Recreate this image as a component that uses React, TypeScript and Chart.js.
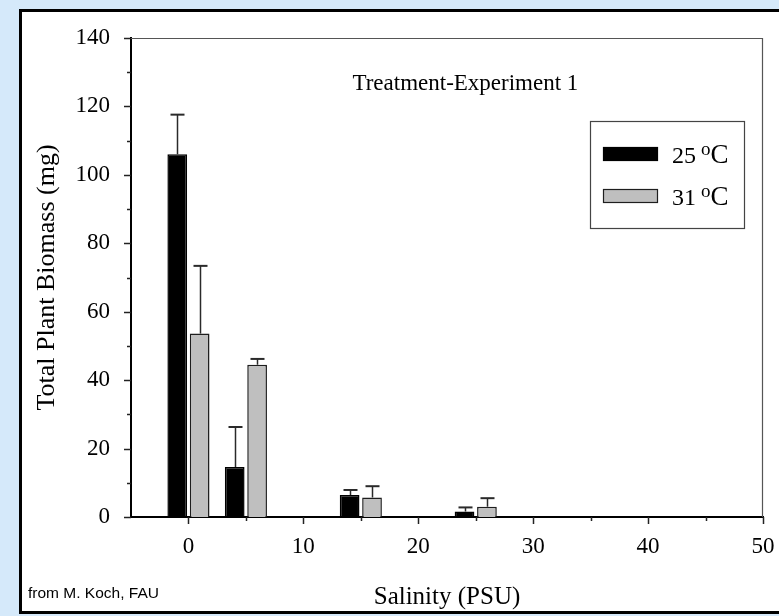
import React, { useEffect, useRef } from 'react';
import { Chart, registerables } from 'chart.js';

Chart.register(...registerables);

// ---- data ----
const salinity = [0, 5, 15, 25];
const biomass25 = [106, 14.6, 6.4, 1.6];
const err25 = [11.6, 11.7, 1.5, 1.2];
const biomass31 = [53.6, 44.5, 5.7, 3.0];
const err31 = [19.8, 1.7, 3.3, 2.5];
const seriesTemps = ['25', '31'];
const chartTitle = 'Treatment-Experiment 1';
const xTitle = 'Salinity (PSU)';
const yTitle = 'Total Plant Biomass (mg)';
const credit = 'from M. Koch, FAU';
const errors = [err25, err31];

const SERIF = '"Liberation Serif", "Times New Roman", serif';
const SANS = '"Liberation Sans", Arial, sans-serif';

const tickMarksPlugin = {
  id: 'tickMarks',
  afterDraw(chart: any) {
    const { ctx, scales, chartArea } = chart;
    ctx.save();
    ctx.strokeStyle = '#222';
    ctx.lineWidth = 1.5;
    const ys = scales.y;
    ys.ticks.forEach((t: any) => {
      const v = t.value;
      const py = Math.round(ys.getPixelForValue(v)) + 0.5;
      const len = v % 20 === 0 ? 7 : 4;
      ctx.beginPath();
      ctx.moveTo(chartArea.left - len, py);
      ctx.lineTo(chartArea.left, py);
      ctx.stroke();
    });
    const xs = scales.x;
    xs.ticks.forEach((t: any) => {
      const v = t.value;
      if (v <= xs.min) return;
      const px = Math.round(xs.getPixelForValue(v)) + 0.5;
      const len = v % 10 === 0 ? 7 : 4;
      ctx.beginPath();
      ctx.moveTo(px, chartArea.bottom);
      ctx.lineTo(px, chartArea.bottom + len);
      ctx.stroke();
    });
    ctx.restore();
  },
};

const framePlugin = {
  id: 'frame',
  beforeDatasetsDraw(chart: any) {
    const { ctx, chartArea } = chart;
    ctx.save();
    ctx.strokeStyle = '#555';
    ctx.lineWidth = 1.2;
    ctx.beginPath();
    ctx.moveTo(chartArea.left, chartArea.top + 0.5);
    ctx.lineTo(chartArea.right - 0.5, chartArea.top + 0.5);
    ctx.lineTo(chartArea.right - 0.5, chartArea.bottom);
    ctx.stroke();
    ctx.restore();
  },
};

const errorBarPlugin = {
  id: 'errorBars',
  afterDatasetsDraw(chart: any) {
    const { ctx, scales } = chart;
    ctx.save();
    ctx.strokeStyle = '#2a2a2a';
    chart.data.datasets.forEach((ds: any, i: number) => {
      const meta = chart.getDatasetMeta(i);
      const err = errors[i];
      meta.data.forEach((bar: any, j: number) => {
        const top = ds.data[j].y + err[j];
        const yTop = scales.y.getPixelForValue(top);
        const x = Math.round(bar.x) + 0.5;
        ctx.lineWidth = 1.5;
        ctx.beginPath();
        ctx.moveTo(x, bar.y);
        ctx.lineTo(x, yTop);
        ctx.stroke();
        ctx.lineWidth = 2;
        ctx.beginPath();
        ctx.moveTo(x - 7, yTop);
        ctx.lineTo(x + 7, yTop);
        ctx.stroke();
      });
    });
    ctx.restore();
  },
};

const annotationPlugin = {
  id: 'annotations',
  afterDraw(chart: any) {
    const { ctx, scales, chartArea } = chart;
    ctx.save();
    // title inside plot
    ctx.fillStyle = '#000';
    ctx.font = `23px ${SERIF}`;
    ctx.textAlign = 'center';
    ctx.textBaseline = 'alphabetic';
    ctx.fillText(chartTitle, scales.x.getPixelForValue(24.1), scales.y.getPixelForValue(124.8));

    // legend box
    const w = 154;
    const h = 107;
    const left = chartArea.right - 19 - w;
    const top = chartArea.top + 83;
    ctx.fillStyle = '#fff';
    ctx.fillRect(left, top, w, h);
    ctx.strokeStyle = '#444';
    ctx.lineWidth = 1.2;
    ctx.strokeRect(left + 0.5, top + 0.5, w, h);
    chart.data.datasets.forEach((ds: any, i: number) => {
      const sy = top + 26 + i * 42;
      const sx = left + 13;
      ctx.fillStyle = ds.backgroundColor;
      ctx.fillRect(sx, sy, 55, 14);
      ctx.strokeStyle = ds.borderColor;
      ctx.lineWidth = 1.2;
      ctx.strokeRect(sx + 0.5, sy + 0.5, 54, 13);
      const base = sy + 7 + 9;
      ctx.fillStyle = '#000';
      ctx.textAlign = 'left';
      ctx.font = `24px ${SERIF}`;
      let tx = sx + 55 + 14;
      ctx.fillText(seriesTemps[i], tx, base);
      tx += ctx.measureText(seriesTemps[i]).width + 5;
      ctx.font = `19px ${SERIF}`;
      ctx.fillText('o', tx, base - 8);
      tx += ctx.measureText('o').width;
      ctx.font = `27px ${SERIF}`;
      ctx.fillText('C', tx, base);
    });

    // credit
    ctx.font = `15.5px ${SANS}`;
    ctx.textAlign = 'left';
    ctx.fillStyle = '#000';
    ctx.fillText(credit, 28, 598);
    ctx.restore();
  },
};

function App() {
  const ref = useRef<HTMLCanvasElement | null>(null);

  useEffect(() => {
    if (!ref.current) return;
    const chart = new Chart(ref.current, {
      type: 'bar',
      data: {
        datasets: [
          {
            label: '25 °C',
            data: salinity.map((s, i) => ({ x: s, y: biomass25[i] })),
            backgroundColor: '#000000',
            borderColor: '#000000',
            borderWidth: 1.5,
          },
          {
            label: '31 °C',
            data: salinity.map((s, i) => ({ x: s, y: biomass31[i] })),
            backgroundColor: '#bfbfbf',
            borderColor: '#1e1e1e',
            borderWidth: 1.5,
          },
        ],
      },
      options: {
        responsive: false,
        animation: false,
        devicePixelRatio: 1,
        categoryPercentage: 0.78,
        barPercentage: 0.88,
        layout: { padding: { top: 38, right: 16, left: 0, bottom: 0 } },
        plugins: {
          legend: { display: false },
          title: { display: false },
          tooltip: { enabled: false },
        },
        scales: {
          x: {
            type: 'linear',
            min: -5,
            max: 50,
            offset: false,
            grid: { display: false, drawTicks: false },
            border: { display: true, color: '#000', width: 2 },
            ticks: {
              stepSize: 5,
              autoSkip: false,
              maxRotation: 0,
              padding: 16,
              color: '#000',
              font: { family: SERIF, size: 23 },
              callback: (v: any) => (Number(v) % 10 === 0 ? String(v) : ''),
            },
            title: {
              display: true,
              text: xTitle,
              color: '#000',
              font: { family: SERIF, size: 25 },
              padding: { top: 0, bottom: 4 },
            },
            afterFit: (scale: any) => {
              scale.height = 99;
              scale.paddingLeft = 0;
              scale.paddingRight = 0;
            },
          },
          y: {
            type: 'linear',
            min: 0,
            max: 140,
            grid: { display: false, drawTicks: false },
            border: { display: true, color: '#000', width: 2 },
            ticks: {
              stepSize: 10,
              autoSkip: false,
              padding: 21,
              color: '#000',
              font: { family: SERIF, size: 23 },
              callback: (v: any) => (Number(v) % 20 === 0 ? String(v) : ''),
            },
            title: {
              display: true,
              text: yTitle,
              color: '#000',
              font: { family: SERIF, size: 26 },
              padding: { top: 32, bottom: 0 },
            },
            afterFit: (scale: any) => {
              scale.width = 131;
              scale.paddingTop = 0;
              scale.paddingBottom = 0;
            },
          },
        },
      },
      plugins: [framePlugin, errorBarPlugin, tickMarksPlugin, annotationPlugin],
    } as any);
    return () => chart.destroy();
  }, []);

  return (
    <div
      style={{
        position: 'fixed',
        left: 0,
        top: 0,
        width: 779,
        height: 616,
        background: '#d5e9fa',
        overflow: 'hidden',
      }}
    >
      <div
        style={{
          position: 'absolute',
          left: 19,
          top: 9,
          width: 760,
          height: 605,
          borderTop: '3px solid #000',
          borderBottom: '3px solid #000',
          borderLeft: '3px solid #000',
          borderRight: 'none',
          background: '#fff',
          boxSizing: 'border-box',
        }}
      />
      <canvas
        ref={ref}
        width={779}
        height={616}
        style={{ position: 'absolute', left: 0, top: 0, width: 779, height: 616 }}
      />
    </div>
  );
}

export default App;
